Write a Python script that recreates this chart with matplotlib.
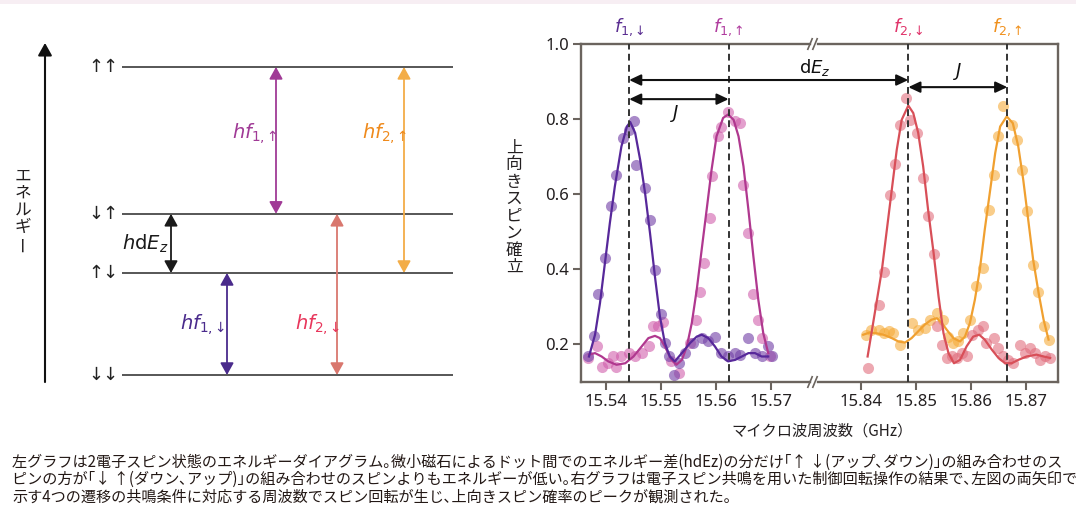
import matplotlib
matplotlib.use('Agg')
import matplotlib.pyplot as plt
from matplotlib.patches import Rectangle

plt.rcParams['font.family'] = ['Noto Sans CJK JP', 'DejaVu Sans']
plt.rcParams['mathtext.fontset'] = 'dejavusans'

# ---------------- data ----------------
# energy level diagram (schematic energies)
state_labels = ['↑↑', '↓↑', '↑↓', '↓↓']
state_energy = [3.02, 1.58, 1.00, 0.00]
trans_labels = [r'$hf_{1{,}\uparrow}$', r'$hf_{2{,}\uparrow}$', r'$h\mathrm{d}E_z$',
                r'$hf_{1{,}\downarrow}$', r'$hf_{2{,}\downarrow}$']
trans_lower = [1, 2, 2, 3, 3]
trans_upper = [0, 0, 1, 2, 1]

# resonance frequencies (GHz)
res_labels = [r'$f_{1{,}\downarrow}$', r'$f_{1{,}\uparrow}$', r'$f_{2{,}\downarrow}$', r'$f_{2{,}\uparrow}$']
res_freq = [15.5442, 15.5623, 15.8486, 15.8666]

left_ticks = [15.54, 15.55, 15.56, 15.57]
right_ticks = [15.84, 15.85, 15.86, 15.87]
y_ticks = [0.2, 0.4, 0.6, 0.8, 1.0]

# f1,down series
purple_x = [15.5368, 15.5379, 15.5386, 15.5399, 15.5409, 15.5419, 15.5430, 15.5441, 15.5450, 15.5454,
            15.5470, 15.5480, 15.5489, 15.5500, 15.5508, 15.5515, 15.5524, 15.5533, 15.5544, 15.5559,
            15.5574, 15.5586, 15.5598, 15.5610, 15.5622, 15.5635, 15.5644, 15.5659, 15.5671, 15.5683,
            15.5695, 15.5701]
purple_y = [0.167, 0.222, 0.334, 0.429, 0.567, 0.652, 0.749, 0.772, 0.794, 0.678,
            0.616, 0.532, 0.398, 0.281, 0.203, 0.167, 0.118, 0.149, 0.176, 0.203,
            0.216, 0.207, 0.220, 0.176, 0.167, 0.176, 0.172, 0.216, 0.176, 0.167,
            0.194, 0.167]
purple_fit_x = [15.5369, 15.5380, 15.5389, 15.5398, 15.5407, 15.5416, 15.5428, 15.5438, 15.5444, 15.5453,
                15.5462, 15.5471, 15.5480, 15.5489, 15.5498, 15.5507, 15.5516, 15.5525, 15.5538, 15.5553,
                15.5565, 15.5574, 15.5586, 15.5598, 15.5610, 15.5622, 15.5635, 15.5647, 15.5659, 15.5671,
                15.5683, 15.5695]
purple_fit_y = [0.167, 0.225, 0.309, 0.416, 0.523, 0.620, 0.727, 0.780, 0.792, 0.763,
                0.692, 0.603, 0.496, 0.380, 0.274, 0.203, 0.167, 0.154, 0.176, 0.203,
                0.220, 0.225, 0.216, 0.194, 0.167, 0.154, 0.158, 0.167, 0.176, 0.176,
                0.167, 0.167]

# f1,up series
pink_x = [15.5368, 15.5383, 15.5392, 15.5404, 15.5413, 15.5419, 15.5428, 15.5441, 15.5453, 15.5465,
          15.5478, 15.5486, 15.5495, 15.5504, 15.5519, 15.5532, 15.5553, 15.5563, 15.5571, 15.5579,
          15.5589, 15.5593, 15.5604, 15.5610, 15.5621, 15.5635, 15.5644, 15.5650, 15.5659, 15.5668,
          15.5676, 15.5684, 15.5698]
pink_y = [0.163, 0.194, 0.140, 0.149, 0.167, 0.140, 0.167, 0.176, 0.167, 0.176,
          0.194, 0.247, 0.247, 0.260, 0.154, 0.123, 0.203, 0.265, 0.340, 0.416,
          0.536, 0.649, 0.754, 0.780, 0.820, 0.794, 0.789, 0.625, 0.496, 0.334,
          0.265, 0.216, 0.167]
pink_fit_x = [15.5369, 15.5380, 15.5392, 15.5404, 15.5419, 15.5435, 15.5450, 15.5465, 15.5477, 15.5489,
              15.5498, 15.5507, 15.5519, 15.5528, 15.5538, 15.5547, 15.5556, 15.5565, 15.5574, 15.5583,
              15.5592, 15.5601, 15.5613, 15.5622, 15.5632, 15.5641, 15.5650, 15.5659, 15.5668, 15.5677,
              15.5686, 15.5695]
pink_fit_y = [0.172, 0.176, 0.167, 0.154, 0.145, 0.149, 0.167, 0.194, 0.216, 0.222,
              0.216, 0.194, 0.158, 0.145, 0.158, 0.194, 0.256, 0.345, 0.452, 0.558,
              0.665, 0.754, 0.803, 0.812, 0.798, 0.754, 0.674, 0.558, 0.434, 0.318,
              0.229, 0.176]

# f2,down series
red_x = [15.8412, 15.8432, 15.8441, 15.8452, 15.8462, 15.8470, 15.8482, 15.8489, 15.8502, 15.8513,
         15.8521, 15.8533, 15.8539, 15.8547, 15.8556, 15.8565, 15.8574, 15.8583, 15.8592, 15.8601,
         15.8613, 15.8622, 15.8628, 15.8641, 15.8650, 15.8659, 15.8668, 15.8677, 15.8689, 15.8698,
         15.8707, 15.8716, 15.8725, 15.8735, 15.8744]
red_y = [0.136, 0.305, 0.391, 0.598, 0.681, 0.785, 0.856, 0.798, 0.763, 0.643,
         0.542, 0.441, 0.247, 0.198, 0.163, 0.167, 0.163, 0.176, 0.167, 0.225,
         0.238, 0.247, 0.203, 0.216, 0.189, 0.167, 0.158, 0.149, 0.198, 0.176,
         0.189, 0.176, 0.158, 0.167, 0.163]
red_fit_x = [15.8412, 15.8419, 15.8428, 15.8438, 15.8447, 15.8456, 15.8465, 15.8474, 15.8486, 15.8495,
             15.8504, 15.8513, 15.8522, 15.8532, 15.8541, 15.8550, 15.8559, 15.8569, 15.8580, 15.8592,
             15.8604, 15.8615, 15.8625, 15.8638, 15.8650, 15.8662, 15.8674, 15.8686, 15.8701, 15.8719,
             15.8732, 15.8744]
red_fit_y = [0.167, 0.229, 0.309, 0.398, 0.505, 0.612, 0.718, 0.798, 0.836, 0.816,
             0.763, 0.674, 0.558, 0.443, 0.327, 0.229, 0.176, 0.149, 0.158, 0.194,
             0.220, 0.225, 0.212, 0.185, 0.163, 0.149, 0.149, 0.158, 0.167, 0.172,
             0.167, 0.163]

# f2,up series
orange_x = [15.8409, 15.8419, 15.8432, 15.8441, 15.8450, 15.8459, 15.8471, 15.8492, 15.8504, 15.8516,
            15.8525, 15.8538, 15.8550, 15.8559, 15.8568, 15.8577, 15.8586, 15.8598, 15.8609, 15.8621,
            15.8632, 15.8641, 15.8650, 15.8659, 15.8674, 15.8683, 15.8692, 15.8701, 15.8713, 15.8722,
            15.8732, 15.8741]
orange_y = [0.225, 0.238, 0.238, 0.229, 0.234, 0.229, 0.198, 0.256, 0.238, 0.243,
            0.265, 0.283, 0.265, 0.220, 0.203, 0.207, 0.229, 0.265, 0.354, 0.403,
            0.558, 0.652, 0.754, 0.834, 0.785, 0.745, 0.665, 0.554, 0.412, 0.340,
            0.247, 0.212]
orange_fit_x = [15.8404, 15.8416, 15.8428, 15.8441, 15.8456, 15.8468, 15.8480, 15.8492, 15.8504, 15.8516,
                15.8528, 15.8538, 15.8547, 15.8556, 15.8568, 15.8580, 15.8589, 15.8598, 15.8607, 15.8616,
                15.8625, 15.8635, 15.8644, 15.8653, 15.8665, 15.8676, 15.8686, 15.8695, 15.8704, 15.8713,
                15.8723, 15.8732, 15.8741]
orange_fit_y = [0.225, 0.231, 0.229, 0.225, 0.216, 0.207, 0.204, 0.216, 0.234, 0.252,
                0.265, 0.269, 0.256, 0.238, 0.216, 0.207, 0.220, 0.256, 0.318, 0.398,
                0.505, 0.612, 0.709, 0.780, 0.807, 0.789, 0.727, 0.638, 0.532, 0.425,
                0.336, 0.265, 0.212]

caption_lines = [
    '左グラフは2電子スピン状態のエネルギーダイアグラム｡微小磁石によるドット間でのエネルギー差(hdEz)の分だけ｢↑ ↓(アップ､ダウン)｣の組み合わせのス',
    'ピンの方が｢↓ ↑(ダウン､アップ)｣の組み合わせのスピンよりもエネルギーが低い｡右グラフは電子スピン共鳴を用いた制御回転操作の結果で､左図の両矢印で',
    '示す4つの遷移の共鳴条件に対応する周波数でスピン回転が生じ､上向きスピン確率のピークが観測された｡',
]
energy_label = 'エネルギー'
y_label = '上向きスピン確立'
x_label = 'マイクロ波周波数（GHz）'

# ---------------- styles ----------------
W, H = 1076, 525
spine_c = '#6b645e'
txt_c = '#231f20'
trans_x = [276, 404, 171, 227, 337]
trans_arrow_c = ['#a03a96', '#f3ad48', '#1a1a1a', '#4a2b8c', '#d9776e']
trans_text_c = ['#a03a96', '#ef8a1c', '#1a1a1a', '#4a2b8c', '#e8375c']
trans_text_pos = [(232, 2.37), (362, 2.37), (122, 1.29), (180, 0.49), (295, 0.49)]
res_c = ['#5a2d91', '#b03c9e', '#e0336a', '#f0901c']

fig = plt.figure(figsize=(W / 100, H / 100), dpi=100)
fig.patch.set_facecolor('white')

def fr(x0, y0, x1, y1):
    return [x0 / W, 1 - y1 / H, (x1 - x0) / W, (y1 - y0) / H]

# ---------------- energy diagram ----------------
axd = fig.add_axes(fr(0, 30, 520, 390))
axd.set_xlim(0, 520)
axd.set_ylim(-0.147, 3.382)
axd.axis('off')
axd.hlines(state_energy, 122, 453, color='#3a3a3a', lw=1.2)
for lab, e in zip(state_labels, state_energy):
    axd.text(103, e, lab, ha='center', va='center', fontsize=13, color='#222',
             family=['DejaVu Sans'])
for i, lab in enumerate(trans_labels):
    lo = state_energy[trans_lower[i]]
    hi = state_energy[trans_upper[i]]
    axd.annotate('', xy=(trans_x[i], hi), xytext=(trans_x[i], lo),
                 arrowprops=dict(arrowstyle='<|-|>,head_length=0.72,head_width=0.4',
                                 mutation_scale=10, lw=1.3, color=trans_arrow_c[i],
                                 shrinkA=0, shrinkB=0))
    tx, ty = trans_text_pos[i]
    axd.text(tx, ty, lab, ha='left', va='center', fontsize=14, color=trans_text_c[i])
axd.annotate('', xy=(45, 3.255), xytext=(45, -0.069),
             arrowprops=dict(arrowstyle='-|>,head_length=0.75,head_width=0.42',
                             mutation_scale=10, lw=1.5, color='#111', shrinkA=0, shrinkB=0))

# ---------------- resonance chart ----------------
ax1 = fig.add_axes(fr(581, 44, 810, 382))
ax2 = fig.add_axes(fr(818, 44, 1058, 382))
ax1.set_xlim(15.53545, 15.5771)
ax2.set_xlim(15.83218, 15.87582)
for ax in (ax1, ax2):
    ax.set_ylim(0.099, 1.0)
    ax.set_facecolor('none')
    for s in ax.spines.values():
        s.set_color(spine_c)
        s.set_linewidth(1.7)
    ax.tick_params(direction='out', length=5.5, width=1.5, color=spine_c,
                   labelsize=12, labelcolor=txt_c, pad=3)
ax1.spines['right'].set_visible(False)
ax2.spines['left'].set_visible(False)
ax1.set_xticks(left_ticks)
ax1.set_xticklabels([f'{t:.2f}' for t in left_ticks])
ax2.set_xticks(right_ticks)
ax2.set_xticklabels([f'{t:.2f}' for t in right_ticks])
ax1.set_yticks(y_ticks)
ax1.set_yticklabels([f'{t:.1f}' for t in y_ticks])
ax2.set_yticks([])
for ax in (ax1, ax2):
    for t in ax.get_xticklabels() + ax.get_yticklabels():
        t.set_fontfamily('Noto Sans')

pt_s = 64
ax1.scatter(pink_x, pink_y, s=pt_s, color='#cf5aa9', alpha=0.58, lw=0, zorder=2)
ax1.scatter(purple_x, purple_y, s=pt_s, color='#7443a8', alpha=0.62, lw=0, zorder=2)
ax1.plot(pink_fit_x, pink_fit_y, color='#b0388f', lw=1.6, zorder=3, solid_joinstyle='round')
ax1.plot(purple_fit_x, purple_fit_y, color='#57289a', lw=1.6, zorder=3, solid_joinstyle='round')
ax2.scatter(orange_x, orange_y, s=pt_s, color='#f6aa35', alpha=0.58, lw=0, zorder=2)
ax2.scatter(red_x, red_y, s=pt_s, color='#e06a7a', alpha=0.58, lw=0, zorder=2)
ax2.plot(orange_fit_x, orange_fit_y, color='#f0a030', lw=1.6, zorder=3, solid_joinstyle='round')
ax2.plot(red_fit_x, red_fit_y, color='#d84f58', lw=1.6, zorder=3, solid_joinstyle='round')

axes_for = [ax1, ax1, ax2, ax2]
for f, lab, c, ax in zip(res_freq, res_labels, res_c, axes_for):
    ax.axvline(f, color='#333333', lw=1.4, ls=(0, (3.5, 2.2)), zorder=4)
    ax.text(f, 1.046, lab, ha='center', va='center', fontsize=13, color=c, clip_on=False)

harrow = dict(arrowstyle='<|-|>,head_length=0.7,head_width=0.33', mutation_scale=10,
              lw=1.5, color='#111', shrinkA=0, shrinkB=0)
ax1.annotate('', xy=(res_freq[1], 0.853), xytext=(res_freq[0], 0.853), arrowprops=harrow, zorder=5)
ax2.annotate('', xy=(res_freq[3], 0.885), xytext=(res_freq[2], 0.885), arrowprops=harrow, zorder=5)
ax1.text(15.5525, 0.816, r'$J$', ha='center', va='center', fontsize=13, color='#111')
ax2.text(15.8576, 0.928, r'$J$', ha='center', va='center', fontsize=13, color='#111')

# ---------------- overlay (pixel coordinates) ----------------
ax0 = fig.add_axes([0, 0, 1, 1], zorder=10)
ax0.set_xlim(0, W)
ax0.set_ylim(H, 0)
ax0.axis('off')
ax0.patch.set_alpha(0)
ax0.add_patch(Rectangle((0, 0), W, 3.5, color='#f7eef3', lw=0))

ax0.annotate('', xy=(res_freq[2], 0.904), xycoords=ax2.transData,
             xytext=(res_freq[0], 0.904), textcoords=ax1.transData, arrowprops=harrow)
ax0.text(815, 68, r'$\mathrm{d}E_z$', ha='center', va='center', fontsize=13, color='#111')

# axis break marks
for yb in (44, 382):
    for x0 in (807.5, 812.5):
        ax0.plot([x0, x0 + 5], [yb + 6, yb - 6], color=spine_c, lw=1.2,
                 solid_capstyle='butt')

def vtext(x, y0, step, s, fs):
    for i, ch in enumerate(s):
        rot = 90 if ch == 'ー' else 0
        ax0.text(x, y0 + i * step, ch, ha='center', va='center', rotation=rot,
                 fontsize=fs, color=txt_c)

vtext(23, 176, 17, energy_label, 12)
vtext(514, 148, 17, y_label, 12)
ax0.text(822, 431, x_label, ha='center', va='center', fontsize=11, color=txt_c)

for y, line in zip([462, 479.5, 497], caption_lines):
    ax0.text(12, y, line, ha='left', va='center', fontsize=10.9, color='#231815',
             family=['Noto Sans CJK JP', 'DejaVu Sans'])

fig.savefig('out.png', dpi=100)
